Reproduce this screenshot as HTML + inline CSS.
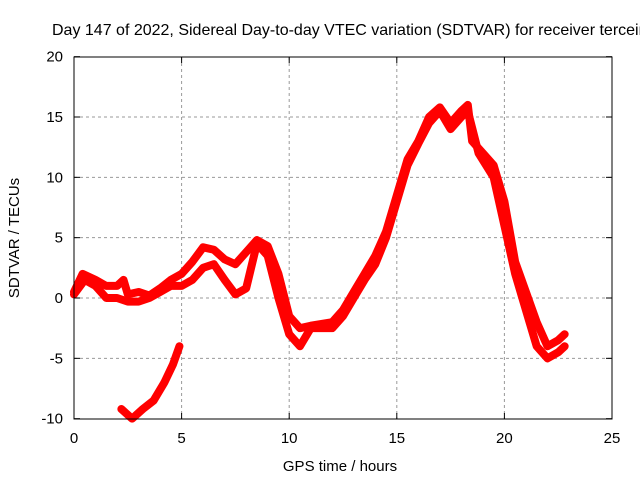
<!DOCTYPE html>
<html><head><meta charset="utf-8"><style>
html,body{margin:0;padding:0;background:#fff;overflow:hidden}
svg{display:block;font-family:"Liberation Sans",sans-serif}
</style></head><body>
<svg id="c" width="640" height="480">
<text x="52" y="35" font-size="16">Day 147 of 2022, Sidereal Day-to-day VTEC variation (SDTVAR) for receiver terceira</text>
<g id="grid"></g>
<g id="series"></g>
<rect x="74" y="57" width="538" height="362" fill="none" stroke="#000" stroke-width="1"/>
<g id="ticks"></g>
<text x="340" y="471" font-size="15" text-anchor="middle">GPS time / hours</text>
<text transform="translate(19,238) rotate(-90)" font-size="15" text-anchor="middle">SDTVAR / TECUs</text>
</svg>
<script>
const xTicks=[0,5,10,15,20,25];
const yTicks=[-10,-5,0,5,10,15,20];
const seriesAT=[0,0.4,1,1.5,2,2.3,2.5,3,3.5,4,4.5,5,5.5,6,6.5,7,7.5,8,8.5,9,9.5,10,10.5,11,12,12.5,13,13.5,14,14.5,15,15.5,16,16.5,17,17.5,18,18.3,18.5,19,19.5,20,20.5,21,21.5,22,22.5,22.8];
const seriesAV=[0.5,2.0,1.5,1.0,1.0,1.5,0.3,0.5,0.2,0.8,1.5,2.0,3.0,4.2,4.0,3.2,2.8,3.8,4.8,4.3,2,-1.5,-2.5,-2.3,-2,-1,0.5,2,3.5,5.5,8.5,11.5,13,15,15.8,14.5,15.5,16,13,12,11,8,3,0.5,-2,-4,-3.5,-3];
const seriesBT=[0,0.5,1,1.5,2,2.5,3,3.5,4,4.5,5,5.5,6,6.5,7,7.5,8,8.5,9,9.5,10,10.5,11,12,12.5,13,13.5,14,14.5,15,15.5,16,16.5,17,17.5,18,18.3,18.8,19.5,20,20.5,21,21.5,22,22.5,22.8];
const seriesBV=[0.3,1.5,1.0,0,0,-0.3,-0.3,0,0.5,1.0,1.0,1.5,2.5,2.8,1.5,0.3,0.8,4.5,3.5,0,-3,-4,-2.5,-2.5,-1.5,0,1.5,2.8,5,8,11,12.8,14.5,15.5,14,15,15.5,12,10,6,2,-1,-4,-5,-4.5,-4];
const seriesCT=[2.2,2.7,3.2,3.7,4.2,4.6,4.9];
const seriesCV=[-9.2,-10,-9.2,-8.5,-7,-5.5,-4];
const X=t=>74+t*538/25, Y=v=>298-v*362/30;
const NS='http://www.w3.org/2000/svg';
const grid=document.getElementById('grid'),ticks=document.getElementById('ticks'),ser=document.getElementById('series');
function mk(tag,a,p){const e=document.createElementNS(NS,tag);for(const k in a)e.setAttribute(k,a[k]);p.appendChild(e);return e;}
xTicks.forEach(t=>{
 if(t>0&&t<25){const g=mk('line',{x1:X(t),x2:X(t),y1:57,y2:419,stroke:'#999','stroke-dasharray':'3,3'},grid);
 
 }
 mk('line',{x1:X(t),x2:X(t),y1:419,y2:413,stroke:'#000'},ticks);
 mk('line',{x1:X(t),x2:X(t),y1:57,y2:63,stroke:'#000'},ticks);
 const l=mk('text',{x:X(t),y:443,'font-size':15,'text-anchor':'middle'},ticks);l.textContent=t;
 
 
});
yTicks.forEach(v=>{
 if(v>-10&&v<20){const g=mk('line',{x1:74,x2:612,y1:Y(v),y2:Y(v),stroke:'#999','stroke-dasharray':'3,3'},grid);
 
 }
 mk('line',{x1:74,x2:80,y1:Y(v),y2:Y(v),stroke:'#000'},ticks);
 mk('line',{x1:606,x2:612,y1:Y(v),y2:Y(v),stroke:'#000'},ticks);
 const l=mk('text',{x:63,y:Y(v)+5,'font-size':15,'text-anchor':'end'},ticks);l.textContent=v;
 
 
});
function line(T,V,name){
 const p=mk('polyline',{points:T.map((t,i)=>X(t)+','+Y(V[i])).join(' '),fill:'none',stroke:'#f00','stroke-width':8,'stroke-linejoin':'round','stroke-linecap':'round'},ser);
 
 
}
line(seriesAT,seriesAV,'sdtvar-series-a');
line(seriesBT,seriesBV,'sdtvar-series-b');
line(seriesCT,seriesCV,'sdtvar-series-c');
</script>
</body></html>
